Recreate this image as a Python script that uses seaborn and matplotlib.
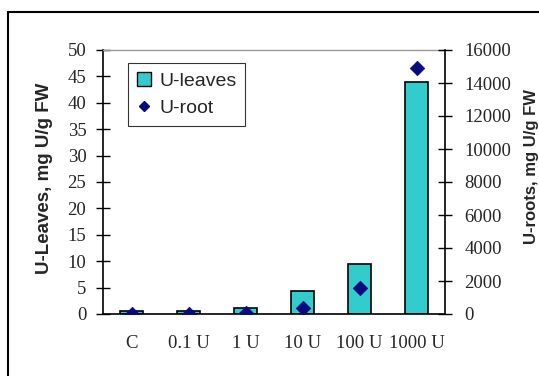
import matplotlib
matplotlib.use("Agg")
import matplotlib.pyplot as plt
from matplotlib.lines import Line2D
from matplotlib.patches import Patch
import seaborn as sns
import pandas as pd

categories = ["C", "0.1 U", "1 U", "10 U", "100 U", "1000 U"]
u_leaves = [0.5, 0.5, 1.1, 4.4, 9.5, 44.0]
u_root = [0, 10, 80, 350, 1600, 14900]

left_ticks = list(range(0, 51, 5))
right_ticks = list(range(0, 16001, 2000))

df = pd.DataFrame({"cat": categories, "leaves": u_leaves, "root": u_root})

sns.set_style("white")
bar_color = "#33CCCC"
marker_color = "#0A0A80"
serif = "Liberation Serif"
sans = "Liberation Sans"
tick_fs = 13.5

fig = plt.figure(figsize=(5.39, 3.76), dpi=100)
ax = fig.add_axes([103 / 539, 1 - 314 / 376, 342 / 539, 264 / 376])

sns.barplot(data=df, x="cat", y="leaves", order=categories, color=bar_color,
            saturation=1, width=0.42, edgecolor="black", linewidth=1.2, ax=ax)
ax.set_xlim(-0.5, 5.5)
ax.set_ylim(0, 50)
ax.set_yticks(left_ticks)
ax.set_yticklabels([str(t) for t in left_ticks], fontfamily=serif, fontsize=tick_fs)
ax.set_xticks([i - 0.5 for i in range(7)], minor=False)
ax.set_xticklabels([])
ax.set_xticks(range(6), minor=True)
ax.set_xticklabels(categories, minor=True, fontfamily=serif, fontsize=tick_fs)
ax.tick_params(axis="x", which="minor", length=0, pad=15)
ax.tick_params(axis="x", which="major", direction="inout", length=10, width=1, color="black")
ax.tick_params(axis="y", direction="inout", length=10, width=1, color="black", pad=7)
ax.set_xlabel("")
ax.set_ylabel("U-Leaves, mg U/g FW", fontfamily=sans, fontweight="bold", fontsize=13.5,
              va="center")
ax.yaxis.set_label_coords(-0.172, 0.515)

for side in ["left", "bottom"]:
    ax.spines[side].set_color("black")
    ax.spines[side].set_linewidth(1.2)
ax.spines["top"].set_color("#999999")
ax.spines["top"].set_linewidth(1.0)
ax.spines["right"].set_visible(False)

ax2 = ax.twinx()
sns.scatterplot(data=df, x="cat", y="root", marker="D", s=55, color=marker_color,
                edgecolor=marker_color, linewidth=0.5, ax=ax2, zorder=5)
ax2.set_ylim(0, 16000)
ax2.set_yticks(right_ticks)
ax2.set_yticklabels([str(t) for t in right_ticks], fontfamily=serif, fontsize=tick_fs)
ax2.tick_params(axis="y", direction="inout", length=10, width=1, color="black", pad=9)
ax2.set_ylabel("U-roots, mg U/g FW", fontfamily=sans, fontweight="bold", fontsize=12,
               rotation=90, va="center")
ax2.yaxis.set_label_coords(1.253, 0.557)
for side in ["left", "top", "bottom"]:
    ax2.spines[side].set_visible(False)
ax2.spines["right"].set_color("black")
ax2.spines["right"].set_linewidth(1.2)
ax2.set_xlabel("")

handles = [
    Patch(facecolor=bar_color, edgecolor="black", linewidth=1.0, label="U-leaves"),
    Line2D([], [], marker="D", linestyle="none", color=marker_color, markersize=5, label="U-root"),
]
leg = ax2.legend(handles=handles, loc="upper left", bbox_to_anchor=(0.073, 0.951),
                 prop={"family": sans, "size": 14}, frameon=True, fancybox=False,
                 edgecolor="black", borderpad=0.45, labelspacing=0.5, handlelength=0.75,
                 handleheight=0.75, handletextpad=0.4, borderaxespad=0)
leg.get_frame().set_linewidth(0.8)

# outer chart frame
fig.add_artist(Line2D([8 / 539, 8 / 539], [0, 1 - 12 / 376], color="black", linewidth=1.5))
fig.add_artist(Line2D([8 / 539, 1], [1 - 12 / 376, 1 - 12 / 376], color="black", linewidth=1.5))

fig.savefig("out.png", dpi=100)
